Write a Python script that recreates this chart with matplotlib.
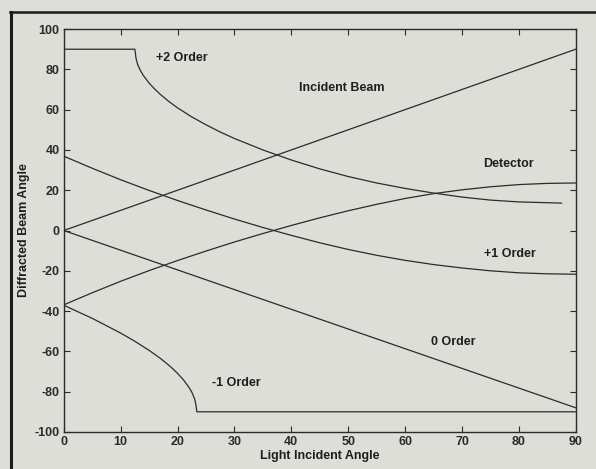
import matplotlib
matplotlib.use("Agg")
import matplotlib.pyplot as plt
from matplotlib.lines import Line2D

# values (degrees)
incident_x = [0, 90]
incident_y = [0, 90]

order0_x = [0, 90]
order0_y = [0, -88]

plus1_x = [0, 5, 10, 15, 20, 25, 30, 35, 40, 45, 50, 55, 60, 65, 70, 75, 80, 85, 90]
plus1_y = [36.9, 30.9, 25.2, 19.9, 14.9, 10.2, 5.7, 1.5, -2.4, -6.1, -9.4, -12.3, -14.8, -16.9, -18.6, -20.0, -21.0, -21.5, -21.7]

detector_x = [0, 5, 10, 15, 20, 25, 30, 35, 40, 45, 50, 55, 60, 65, 70, 75, 80, 85, 90]
detector_y = [-36.9, -30.9, -25.2, -19.9, -14.9, -10.2, -5.7, -1.5, 2.5, 6.3, 9.8, 13.0, 15.9, 18.3, 20.2, 21.7, 22.8, 23.4, 23.6]

plus2_x = [0, 12.5, 12.7, 13, 13.5, 14, 15, 16, 17, 18.5, 20, 22.5, 25, 27.5, 30, 35, 40, 45, 50, 55, 60, 65, 70, 75, 80, 85, 87.5]
plus2_y = [90, 90, 85.5, 82.3, 79.3, 76.9, 73.2, 70.2, 67.5, 64.0, 60.9, 56.4, 52.5, 48.9, 45.7, 40.0, 35.0, 30.6, 26.8, 23.6, 20.9, 18.6, 16.6, 15.1, 14.2, 13.8, 13.6]

minus1_x = [0, 5, 10, 12.5, 15, 17, 18, 19, 20, 21, 22, 22.5, 23, 23.2, 23.4, 90]
minus1_y = [-37.1, -43.6, -50.9, -55.0, -59.5, -63.5, -65.8, -68.2, -70.9, -74.0, -77.8, -80.2, -83.6, -86.0, -90, -90]

labels = ["+2 Order", "Incident Beam", "Detector", "+1 Order", "0 Order", "-1 Order"]
label_x = [20.8, 48.8, 78.2, 78.5, 68.5, 30.4]
label_y = [85.6, 70.7, 33.0, -11.7, -55.3, -75.7]

bg = "#deded8"
ink = "#2b2b2b"
plt.rcParams["font.family"] = ["Liberation Sans", "DejaVu Sans"]
plt.rcParams["axes.unicode_minus"] = False

fig = plt.figure(figsize=(5.96, 4.69), dpi=100, facecolor=bg)
ax = fig.add_axes([0.107, 0.079, 0.859, 0.859], facecolor=bg)

for xs, ys in [(incident_x, incident_y), (order0_x, order0_y), (plus1_x, plus1_y),
               (detector_x, detector_y), (plus2_x, plus2_y), (minus1_x, minus1_y)]:
    ax.plot(xs, ys, color=ink, linewidth=0.9)

for t, x, y in zip(labels, label_x, label_y):
    ax.text(x, y, t, ha="center", va="center", fontsize=9, fontweight="bold", color="#1e1e1e")

ax.set_xlim(0, 90)
ax.set_ylim(-100, 100)
ax.set_xticks(range(0, 91, 10))
ax.set_yticks(range(-100, 101, 20))
ax.tick_params(direction="in", length=4, width=0.8, top=True, right=True,
               labelsize=9, colors=ink, pad=3)
for lab in ax.get_xticklabels() + ax.get_yticklabels():
    lab.set_fontweight("bold")
for s in ax.spines.values():
    s.set_color(ink)
    s.set_linewidth(1.0)

ax.set_xlabel("Light Incident Angle", fontsize=9, fontweight="bold", color="#1e1e1e", labelpad=1)
ax.set_ylabel("Diffracted Beam Angle", fontsize=9, fontweight="bold", color="#1e1e1e", labelpad=3)

# outer frame edges of the scanned page
fig.add_artist(Line2D([0.017, 1.0], [0.974, 0.974], color="#1a1a1a", linewidth=1.8))
fig.add_artist(Line2D([0.018, 0.018], [0.0, 0.974], color="#1a1a1a", linewidth=2.2))

fig.savefig("out.png", dpi=100, facecolor=bg)
